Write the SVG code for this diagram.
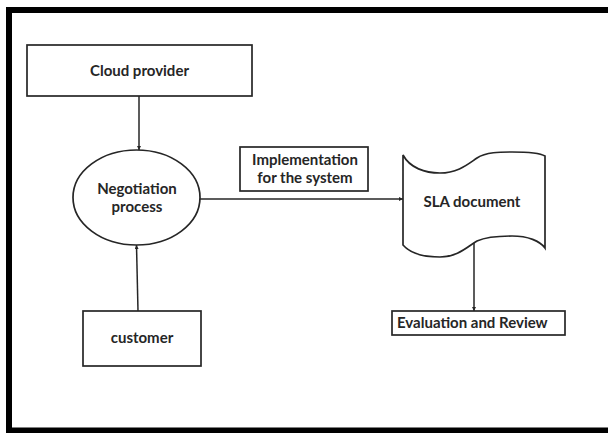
<svg xmlns="http://www.w3.org/2000/svg" width="608" height="433" viewBox="0 0 608 433">
  <style>
    .box { fill: #ffffff; stroke: #262626; stroke-width: 1.7; }
    .lbl { font-family: Lato, "Open Sans", "Liberation Sans", sans-serif; font-weight: bold; font-size: 15px; fill: #262626; }
    .mid { text-anchor: middle; }
    .link { fill: none; stroke: #262626; stroke-width: 1.5; }
  </style>
  <defs>
    <marker id="tip" viewBox="0 0 6 6" refX="6" refY="3" markerWidth="4" markerHeight="4" orient="auto" markerUnits="userSpaceOnUse">
      <path d="M0,0 L6,3 L0,6 Z" fill="#262626"/>
    </marker>
  </defs>

  <!-- page background and frame -->
  <rect x="0" y="0" width="608" height="433" fill="#ffffff"/>
  <path d="M9,433 V10 H608 M9,430.5 H608" fill="none" stroke="#000000" stroke-width="6"/>

  <g id="cloud-provider">
    <rect class="box" x="27" y="45" width="225" height="51"/>
    <text class="lbl mid" x="139.5" y="76">Cloud provider</text>
  </g>

  <g id="negotiation">
    <ellipse class="box" cx="136.5" cy="197.5" rx="63.5" ry="47.5"/>
    <text class="lbl mid" x="137" y="194">Negotiation</text>
    <text class="lbl mid" x="137" y="212">process</text>
  </g>

  <g id="customer">
    <rect class="box" x="83" y="311" width="118" height="55"/>
    <text class="lbl mid" x="142" y="343">customer</text>
  </g>

  <g id="implementation">
    <rect class="box" x="240" y="147" width="128" height="44"/>
    <text class="lbl mid" x="305" y="165">Implementation</text>
    <text class="lbl mid" x="305" y="183">for the system</text>
  </g>

  <g id="sla-document">
    <path class="box" d="M403,155 C410,168 425,173 440,173 C458,173 468,164 477,158 C486,152 500,152 512,152 C528,152 540,153 545,156 L545,248 C540,241 528,236 512,236 C498,236 486,237 477,241 C468,246 458,257 440,257 C424,257 410,253 403,245 Z"/>
    <text class="lbl mid" x="472" y="207">SLA document</text>
  </g>

  <g id="evaluation">
    <rect class="box" x="392" y="311" width="173" height="24"/>
    <text class="lbl" x="397" y="328">Evaluation and Review</text>
  </g>

  <g id="connectors">
    <line class="link" x1="139" y1="96" x2="139" y2="150" marker-end="url(#tip)"/>
    <line class="link" x1="138" y1="311" x2="136.5" y2="245" marker-end="url(#tip)"/>
    <line class="link" x1="200" y1="199" x2="403" y2="199" marker-end="url(#tip)"/>
    <line class="link" x1="474" y1="243" x2="474" y2="311" marker-end="url(#tip)"/>
  </g>
</svg>
